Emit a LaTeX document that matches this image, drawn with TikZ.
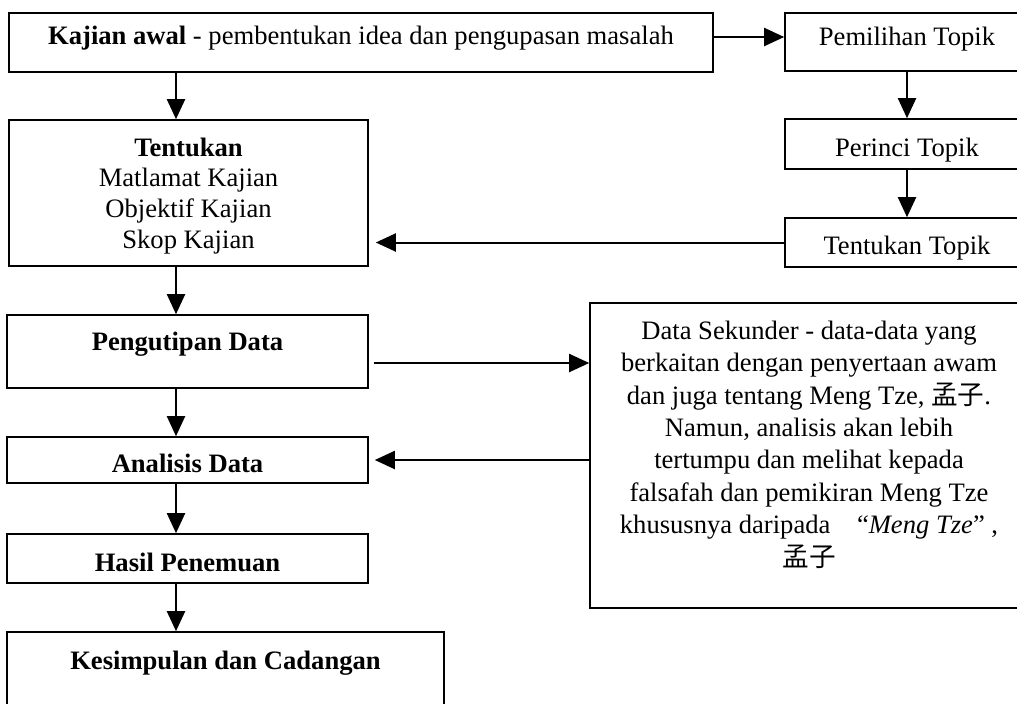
\documentclass[tikz,border=0pt]{standalone}
\usepackage{fontspec}
\setmainfont{Liberation Serif}
\newfontfamily\cjk{Noto Sans CJK SC}
\usetikzlibrary{arrows.meta}

\begin{document}
\begin{tikzpicture}[x=0.5pt,y=-0.5pt,
    box/.style={draw=black,line width=0.8pt,inner sep=0pt,align=center,
        text height=9.5pt,text depth=3pt,font=\fontsize{13.3}{15.5}\selectfont},
    lowbox/.style={box,text height=15.5pt},
    flow/.style={black,line width=1pt,-{Triangle[length=10pt,width=9pt]}}]
    \useasboundingbox (0,0) rectangle (1017,703);
    \clip (0,0) rectangle (1017,703);
    \coordinate (spine) at (176,0);
    % left column
    \node[box,minimum width=352pt,minimum height=29.5pt,text depth=8pt] (kajian) at (361,42.5)
        {\textbf{Kajian awal} - pembentukan idea dan pengupasan masalah};
    \node[box,minimum width=179.5pt,minimum height=73pt,text height=,text depth=-3pt,
        font=\fontsize{13.3}{15.4}\selectfont] (tentukan) at (188.5,193)
        {\textbf{Tentukan}\\Matlamat Kajian\\Objektif Kajian\\Skop Kajian};
    \node[box,minimum width=180.5pt,minimum height=36.5pt,text depth=11pt] (pengutipan) at (187.5,351.5)
        {\textbf{Pengutipan Data}};
    \node[lowbox,minimum width=180.5pt,minimum height=23pt] (analisis) at (187.5,460)
        {\textbf{Analisis Data}};
    \node[lowbox,minimum width=180.5pt,minimum height=24.5pt] (hasil) at (187.5,558.5)
        {\textbf{Hasil Penemuan}};
    \node[box,minimum width=218.5pt,minimum height=55pt,text depth=27pt] (kesimpulan) at (225.5,687)
        {\textbf{Kesimpulan dan Cadangan}};
    % right column
    \node[box,minimum width=122pt,minimum height=29pt,text depth=6pt] (pemilihan) at (907,42)
        {Pemilihan Topik};
    \node[lowbox,minimum width=122pt,minimum height=25pt] (perinci) at (907,144)
        {Perinci Topik};
    \node[lowbox,minimum width=122pt,minimum height=24.5pt,text height=14.5pt] (tentopik) at (907,242.5)
        {Tentukan Topik};
    \node[box,minimum width=219pt,minimum height=152.5pt,text height=,text depth=12pt,
        font=\fontsize{13.3}{16.2}\selectfont] (sekunder) at (809,455.5)
        {Data Sekunder - data-data yang\\
         berkaitan dengan penyertaan awam\\
         dan juga tentang Meng Tze, {\cjk 孟子}.\\
         Namun, analisis akan lebih\\
         tertumpu dan melihat kepada\\
         falsafah dan pemikiran Meng Tze\\
         khususnya daripada\quad ``\textit{Meng Tze}''\ ,\\
         {\cjk 孟子}};
    % arrows
    \draw[flow] ([yshift=2.75pt]kajian.east) -- ([yshift=2.75pt]kajian.east -| pemilihan.west);
    \draw[flow] (pemilihan) -- (perinci);
    \draw[flow] (perinci) -- (tentopik);
    \draw[flow,shorten >=3.5pt] (tentopik.west) -- (tentopik.west -| tentukan.east);
    \draw[flow] (kajian.south -| spine) -- (tentukan.north -| spine);
    \draw[flow] (tentukan.south -| spine) -- (pengutipan.north -| spine);
    \draw[flow] (pengutipan.south -| spine) -- (analisis.north -| spine);
    \draw[flow] (analisis.south -| spine) -- (hasil.north -| spine);
    \draw[flow] (hasil.south -| spine) -- (kesimpulan.north -| spine);
    \draw[flow,shorten <=2.5pt] ([yshift=-5.75pt]pengutipan.east) -- ([yshift=-5.75pt]pengutipan.east -| sekunder.west);
    \draw[flow,shorten >=3pt] (sekunder.west |- analisis) -- (analisis.east);
\end{tikzpicture}
\end{document}
